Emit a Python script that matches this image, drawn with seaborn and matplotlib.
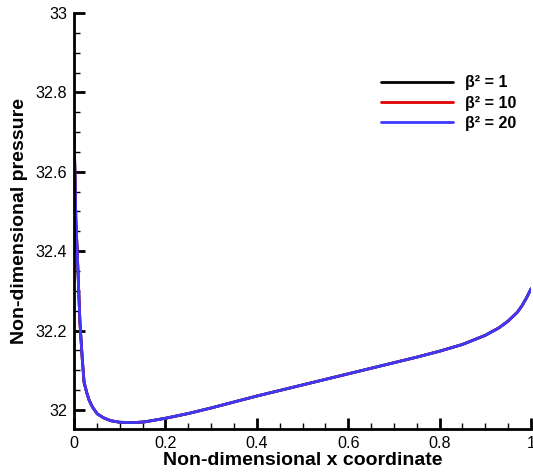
import numpy as np
import pandas as pd
import matplotlib
matplotlib.use("Agg")
import matplotlib.pyplot as plt
from matplotlib.ticker import MultipleLocator, FuncFormatter
import seaborn as sns

x_coord = [0.0, 0.002, 0.004, 0.007, 0.010, 0.013, 0.018, 0.022, 0.028, 0.033,
           0.040, 0.051, 0.065, 0.08, 0.10, 0.13, 0.155, 0.2, 0.25, 0.3,
           0.35, 0.4, 0.45, 0.5, 0.55, 0.6, 0.65, 0.7, 0.75, 0.8,
           0.85, 0.9, 0.93, 0.95, 0.97, 0.98, 0.99, 1.0]
p_beta1 = [32.70, 32.60, 32.48, 32.40, 32.31, 32.22, 32.13, 32.07, 32.043, 32.025,
           32.008, 31.990, 31.980, 31.973, 31.969, 31.968, 31.970, 31.979, 31.991, 32.005,
           32.020, 32.035, 32.049, 32.063, 32.077, 32.091, 32.105, 32.119, 32.133, 32.148,
           32.165, 32.188, 32.207, 32.224, 32.246, 32.262, 32.282, 32.305]
p_beta10 = list(p_beta1)
p_beta20 = list(p_beta1)
series_labels = ["β² = 1", "β² = 10", "β² = 20"]
colors = ["#000000", "#e00000", "#3a3aff"]

df = pd.concat([
    pd.DataFrame({"x": x_coord, "p": vals, "series": lab})
    for vals, lab in zip([p_beta1, p_beta10, p_beta20], series_labels)
], ignore_index=True)

sns.set_style("white")
plt.rcParams['font.family'] = ['Liberation Sans', 'DejaVu Sans']
plt.rcParams['text.color'] = 'black'
plt.rcParams['axes.labelcolor'] = 'black'

fig = plt.figure(figsize=(5.33, 4.72), dpi=100)
ax = fig.add_axes([74/533, 1-429/472, 457/533, 416/472])

sns.lineplot(data=df, x="x", y="p", hue="series", hue_order=series_labels,
             palette=colors, linewidth=2.0, ax=ax, sort=False, estimator=None)

ax.set_xlim(0, 1)
ax.set_ylim(31.952, 33.0)
ax.xaxis.set_major_locator(MultipleLocator(0.2))
ax.xaxis.set_minor_locator(MultipleLocator(0.05))
ax.yaxis.set_major_locator(MultipleLocator(0.2))
ax.yaxis.set_minor_locator(MultipleLocator(0.05))
fmt = FuncFormatter(lambda v, pos: "%g" % round(v, 3))
ax.xaxis.set_major_formatter(fmt)
ax.yaxis.set_major_formatter(fmt)

for s in ["top", "right"]:
    ax.spines[s].set_visible(False)
for s in ["left", "bottom"]:
    ax.spines[s].set_linewidth(2.0)
    ax.spines[s].set_color("black")

ax.tick_params(which="major", direction="in", length=8, width=2, labelsize=11.6,
               colors="black", pad=5)
ax.tick_params(which="minor", direction="in", length=4, width=1, colors="black")
ax.tick_params(axis="both", which="both", bottom=True, left=True)

ax.set_xlabel("Non-dimensional x coordinate", fontsize=14, fontweight="bold",
              labelpad=1, color="black")
ax.set_ylabel("Non-dimensional pressure", fontsize=14, fontweight="bold",
              labelpad=5, color="black")

leg = ax.legend(loc="upper right", bbox_to_anchor=(1.0, 0.885), frameon=False,
                handlelength=4.5, handletextpad=0.75, labelspacing=0.33,
                prop={"weight": "bold", "size": 11.6})
for line in leg.get_lines():
    line.set_linewidth(2.0)
for t in leg.get_texts():
    t.set_color("black")

fig.savefig("out.png", dpi=100)
